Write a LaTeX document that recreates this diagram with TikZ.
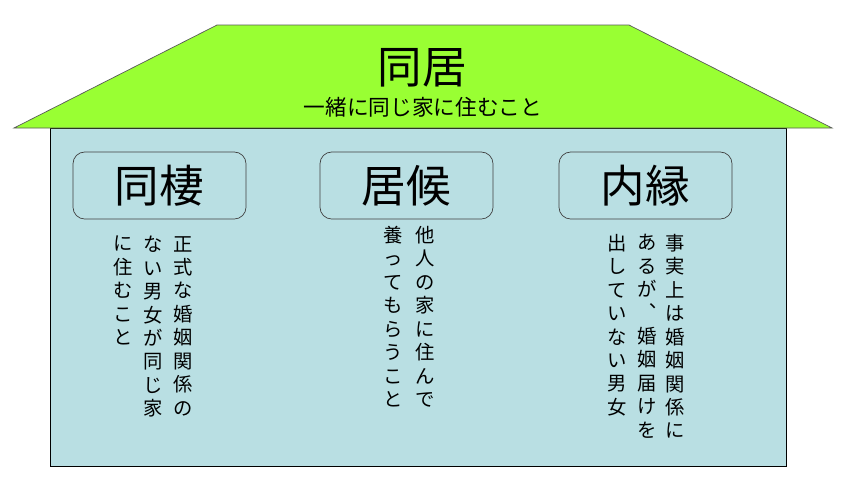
\documentclass[tikz,border=0pt]{standalone}
\usepackage{fontspec}
\setmainfont{Noto Sans CJK JP}
\usetikzlibrary{positioning}

\begin{document}
\begin{tikzpicture}[x=0.03cm, y=-0.03cm,
    every node/.style={inner sep=0pt},
    termbox/.style={draw=black!75, line width=0.6pt, rounded corners=10pt,
      minimum width=5.19cm, minimum height=2.01cm,
      font=\fontsize{38}{40}\selectfont},
    vcol/.style={anchor=north, align=center,
      font=\fontsize{16.5}{20}\selectfont}]
    \definecolor{roofgreen}{HTML}{99FF33}
    \definecolor{wallblue}{HTML}{B9DFE3}
    \useasboundingbox (0,0) rectangle (846,492);

    % =================== house body ===================
    \draw[fill=wallblue, draw=black, line width=0.8pt]
      (50,128) rectangle (786,466);

    % =================== roof ===================
    \draw[fill=roofgreen, draw=black!65, line width=0.6pt]
      (14,128) -- (217,25) -- (629,25) -- (832,128) -- cycle;
    \node[font=\fontsize{38}{40}\selectfont] (title) at (422,68) {同居};
    \node[font=\fontsize{18.5}{20}\selectfont] (subtitle) at (423,107)
      {一緒に同じ家に住むこと};

    % =================== three terms ===================
    \node[termbox] (dousei)  at (159.5,185.5) {同棲};
    \node[termbox] (isourou) at (406.5,185.5) {居候};
    \node[termbox] (naien)   at (645.5,185.5) {内縁};

    % vertical text, right column first
    \node[vcol] (dousei1) at (183,236) {正\\式\\な\\婚\\姻\\関\\係\\の};
    \node[vcol] (dousei2) at (153,236) {な\\い\\男\\女\\が\\同\\じ\\家};
    \node[vcol] (dousei3) at (123,236) {に\\住\\む\\こ\\と};

    \node[vcol] (isourou1) at (425,226) {他\\人\\の\\家\\に\\住\\ん\\で};
    \node[vcol] (isourou2) at (393,226) {養\\っ\\て\\も\\ら\\う\\こ\\と};

    \node[vcol] (naien1) at (675,234) {事\\実\\上\\は\\婚\\姻\\関\\係\\に};
    \node[vcol] (naien2) at (647,234) {あ\\る\\が\\︑\\婚\\姻\\届\\け\\を};
    \node[vcol] (naien3) at (617,234) {出\\し\\て\\い\\な\\い\\男\\女};
\end{tikzpicture}
\end{document}
